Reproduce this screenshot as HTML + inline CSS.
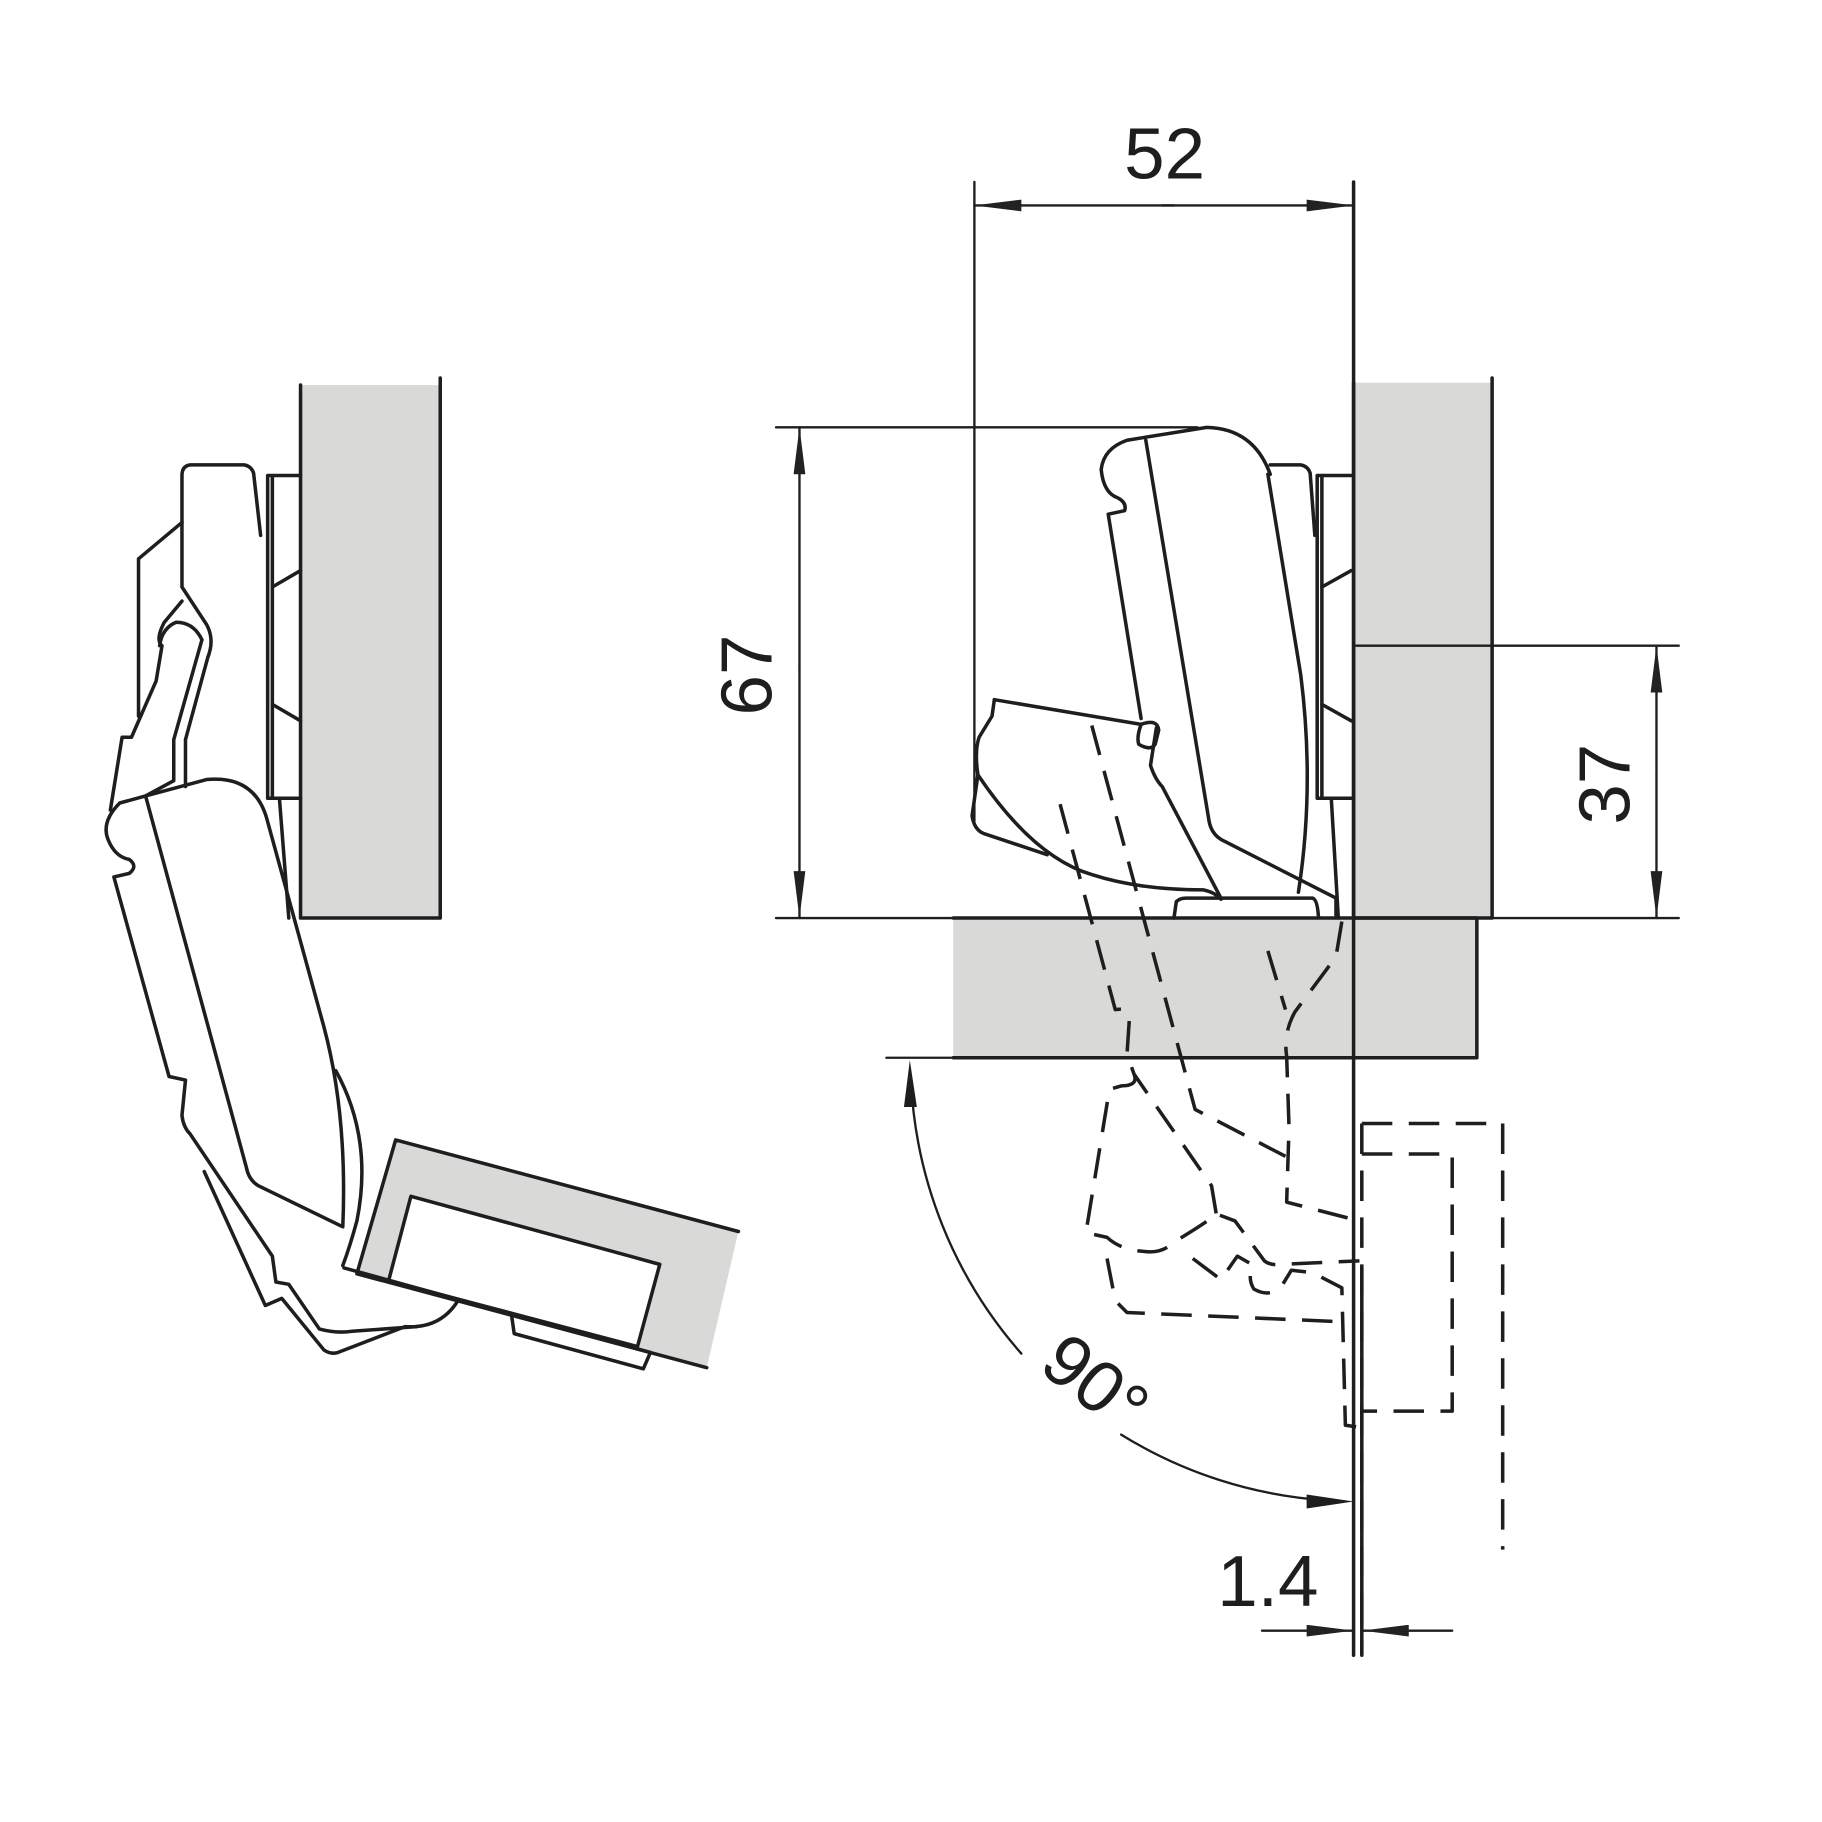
<!DOCTYPE html>
<html><head><style>html,body{margin:0;padding:0;background:#fff}svg{display:block}</style></head>
<body>
<svg width="1822" height="1822" viewBox="0 0 1552 1552" xmlns="http://www.w3.org/2000/svg">
<defs>
<marker id="a" viewBox="0 0 40 10" refX="40" refY="5" markerWidth="40" markerHeight="10" markerUnits="userSpaceOnUse" orient="auto"><path d="M0,0 L40,5 L0,10 z" fill="#222"/></marker>
</defs>
<g fill="#d9dad8" stroke="none">
<rect x="256" y="328" width="119" height="454"/>
<rect x="1153" y="326" width="118" height="456"/>
<rect x="812" y="782" width="446" height="119"/>
<polygon points="337,971 629,1049 602,1165 304,1085"/>
</g>
<g fill="none" stroke="#1e1e1e" stroke-width="3" stroke-linejoin="round" stroke-linecap="round">
<path d="M256,328 V782 H375 V322"/>
<path d="M337,971 L629,1049 M602,1165 L304,1085 L337,971"/>
<path d="M350,1019 L562,1077 L543,1147 L331,1091 Z" fill="#fff"/>
<path d="M293,1080 L554,1152 L548,1166 L438,1136 L436,1122"/>
<path d="M256,405 H228 V680 H256 M232,405 L232,680"/>
<path d="M232,500 L256,486 M232,600 L256,614"/>
<path d="M222,456 L216,403 Q214,397 208,396 H162 Q155,397 155,405 V500 L176,532 Q183,545 177,560 L158,630 V670"/>
<path d="M155,445 L118,476 V610"/>
<path d="M155,512 L140,530 Q132,545 138,550 L133,580 L112,628 L104,628 L94,690"/>
<path d="M172,545 Q165,530 150,530 Q138,535 136,550"/>
<path d="M172,545 L148,630 L148,665 L124,678"/>
<path d="M124,678 L176,664 Q218,660 228,700 L276,875 Q296,950 292,1045 L220,1010 Q212,1005 210,995 L124,678"/>
<path d="M124,678 L102,684 Q86,700 92,715 Q98,730 110,732 Q118,738 110,744 L97,747 L144,917 L158,920 L155,950 Q156,960 162,966 L232,1070 L235,1092 L246,1094 L272,1132 Q286,1136 300,1134 L355,1130"/>
<path d="M174,998 L226,1112 L240,1106 L276,1150 Q282,1154 288,1152 L345,1130 Q375,1132 390,1108"/>
<path d="M238,680 L246,782"/>
<path d="M286,912 Q318,970 304,1040 Q298,1062 292,1078"/>
<path d="M1153,326 V782 H1271 V322"/>
<path d="M812,782 H1258 V901 H812"/>
<path d="M1153,155 V1410 M1160,1080 V1410"/>
<path d="M1151,405 H1122 V680 H1151 M1126,405 L1126,680"/>
<path d="M1126,500 L1151,486 M1126,600 L1151,614"/>
<path d="M1120,456 L1116,403 Q1114,397 1108,396 H1082"/>
<path d="M1134,680 L1140,782"/>
<path d="M1082,404 Q1068,365 1028,364 L960,375 Q940,382 938,400 Q940,420 952,424 Q960,428 958,435 L944,438 L972,612"/>
<path d="M976,375 L1030,700 Q1032,710 1040,715 L1138,765 V780"/>
<path d="M1080,404 L1108,575 Q1120,670 1106,760"/>
<path d="M985,620 L980,652 Q984,664 990,670 L1040,765"/>
<path d="M847,596 L845,610 L834,628 Q830,640 833,660 L828,695 Q830,707 838,710 L892,728"/>
<path d="M847,596 L972,617 Q986,612 987,622 L984,634 Q980,640 970,634 Q968,628 972,617"/>
<path d="M833,660 Q880,730 930,745 Q970,758 1025,758 Q1035,760 1040,766"/>
<path d="M1000,782 L1002,768 Q1005,765 1010,765 H1118 Q1122,766 1123,780"/>
<path stroke-width="2" d="M661,364 H1020 M661,782 H812 M755,901 H812 M830,155 V700 M1155,550 H1430 M1271,782 H1430"/>
<path stroke-width="2" d="M1000,175 L830,175" marker-end="url(#a)"/>
<path stroke-width="2" d="M990,175 L1153,175" marker-end="url(#a)"/>
<path stroke-width="2" d="M681,570 L681,364" marker-end="url(#a)"/>
<path stroke-width="2" d="M681,570 L681,782" marker-end="url(#a)"/>
<path stroke-width="2" d="M1411,660 L1411,550" marker-end="url(#a)"/>
<path stroke-width="2" d="M1411,660 L1411,782" marker-end="url(#a)"/>
<path stroke-width="2" d="M1075,1389 L1153,1389" marker-end="url(#a)"/>
<path stroke-width="2" d="M1237,1389 L1160,1389" marker-end="url(#a)"/>
<path stroke-width="2" d="M776,920 A378,378 0 0 0 870,1153"/>
<path stroke-width="2" d="M955,1222 A378,378 0 0 0 1130,1278"/>
</g>
<g fill="#1e1e1e">
<polygon points="775,903 770,943 781,943"/>
<polygon points="1153,1279 1113,1273 1113,1285"/>
</g>
<g fill="none" stroke="#1e1e1e" stroke-width="3" stroke-dasharray="26,14" stroke-linejoin="round">
<path d="M930,618 L1018,945 L1095,985"/>
<path d="M903,685 L950,860 Q962,858 962,868 L960,898 L966,915 L1032,1010 L1036,1034"/>
<path d="M1080,810 L1095,860"/>
<path d="M1143,785 L1138,815 L1103,862 Q1093,880 1096,900 L1098,960 L1096,1024 L1158,1040"/>
<path d="M966,915 Q970,925 955,925 L945,928 L925,1050 L943,1054 Q955,1065 975,1066 Q990,1068 1000,1058 Q1030,1040 1036,1034 L1052,1040 L1077,1074 Q1082,1078 1090,1077 L1158,1074"/>
<path d="M1016,1072 L1040,1090 L1054,1070 L1068,1078 Q1062,1088 1068,1098 Q1082,1106 1092,1095 L1100,1082 L1118,1084 L1143,1097 L1146,1214 L1160,1216"/>
<path d="M943,1072 L950,1108 L960,1118 L1146,1126"/>
<path d="M1160,957 H1280 V1320"/>
<path d="M1160,983 H1237 V1202 H1160"/>
<path d="M1160,957 V1410"/>
</g>
<g font-family="Liberation Sans, sans-serif" fill="#1e1e1e" font-size="62">
<text x="992" y="152" text-anchor="middle">52</text>
<text transform="translate(657,575) rotate(-90)" text-anchor="middle">67</text>
<text transform="translate(1388,668) rotate(-90)" text-anchor="middle">37</text>
<text x="1080" y="1368" text-anchor="middle">1.4</text>
<text transform="translate(920,1195) rotate(38)" text-anchor="middle">90°</text>
</g>
</svg>
</body></html>
